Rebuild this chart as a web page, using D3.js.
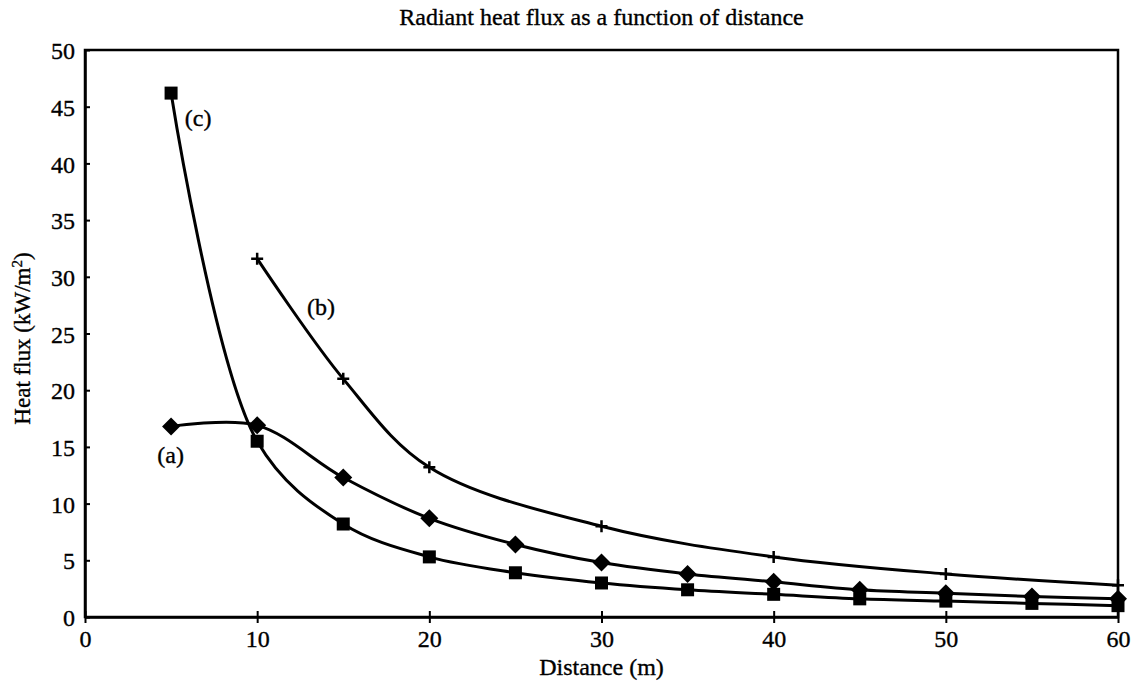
<!DOCTYPE html>
<html lang="en">
<head>
<meta charset="UTF-8">
<title>Radiant heat flux as a function of distance</title>
<style>
    body { margin: 0; background: #fff; }
    svg text { font-family: "Liberation Serif", "DejaVu Serif", serif; fill: #000; stroke: #000; stroke-width: 0.35px; }
    .curve { fill: none; stroke: #000; stroke-width: 3px; }
    .frame { fill: none; stroke: #000; stroke-width: 2.5px; }
</style>
</head>
<body>
<div id="chart"></div>
<script src="https://d3js.org/d3.v7.min.js"></script>
<script>
    // values
    var distAC = [5, 10, 15, 20, 25, 30, 35, 40, 45, 50, 55, 60];
    var fluxA = [16.8, 16.9, 12.3, 8.7, 6.4, 4.8, 3.8, 3.1, 2.4, 2.1, 1.8, 1.6];
    var fluxC = [46.2, 15.5, 8.2, 5.3, 3.9, 3.0, 2.4, 2.0, 1.6, 1.4, 1.2, 1.0];
    var distB = [10, 15, 20, 30, 40, 50, 60];
    var fluxB = [31.6, 21.0, 13.2, 8.0, 5.3, 3.8, 2.8];

    var xTicks = [0, 10, 20, 30, 40, 50, 60];
    var yTicks = [0, 5, 10, 15, 20, 25, 30, 35, 40, 45, 50];

    // curve labels, placed in data units
    var labelText = ["(a)", "(b)", "(c)"];
    var labelX = [4.2, 12.9, 5.8];
    var labelY = [13.6, 26.6, 43.3];

    var W = 1135, H = 682;
    var margin = {top: 50, right: 17, bottom: 65, left: 85};
    var width = W - margin.left - margin.right,
        height = H - margin.top - margin.bottom;

    var x = d3.scaleLinear().domain([0, 60]).range([0, width]);
    var y = d3.scaleLinear().domain([0, 50]).range([height, 0]);

    var svg = d3.select("#chart").append("svg")
        .attr("width", W)
        .attr("height", H);

    var g = svg.append("g")
        .attr("transform", "translate(" + margin.left + "," + margin.top + ")");

    // title
    svg.append("text")
        .attr("x", margin.left + width / 2)
        .attr("y", 25)
        .attr("text-anchor", "middle")
        .style("font-size", "24px")
        .text("Radiant heat flux as a function of distance");

    // frame
    g.append("rect")
        .attr("class", "frame")
        .attr("width", width)
        .attr("height", height);

    // x axis: ticks cross the line
    var xAxis = g.append("g")
        .attr("transform", "translate(0," + height + ")")
        .call(d3.axisBottom(x).tickValues(xTicks).tickSizeInner(6).tickSizeOuter(0).tickPadding(7));
    xAxis.select(".domain").attr("stroke-width", 2.5);
    xAxis.selectAll(".tick line").attr("y1", -6).attr("stroke-width", 2);
    xAxis.selectAll(".tick text")
        .style("font-size", "24px")
        .style("font-family", "'Liberation Serif', serif");

    // y axis
    var yAxis = g.append("g")
        .call(d3.axisLeft(y).tickValues(yTicks).tickSizeInner(7).tickSizeOuter(0).tickPadding(3));
    yAxis.select(".domain").attr("stroke-width", 2.5);
    yAxis.selectAll(".tick line").attr("x2", 5).attr("stroke-width", 2);
    yAxis.selectAll(".tick text")
        .attr("dy", "0.36em")
        .style("font-size", "24px")
        .style("font-family", "'Liberation Serif', serif");

    // axis titles
    svg.append("text")
        .attr("x", margin.left + width / 2)
        .attr("y", 675)
        .attr("text-anchor", "middle")
        .style("font-size", "24px")
        .text("Distance (m)");

    var yTitle = svg.append("text")
        .attr("transform", "translate(30," + (margin.top + height / 2 + 5) + ") rotate(-90)")
        .attr("text-anchor", "middle")
        .style("font-size", "23px");
    yTitle.append("tspan").text("Heat flux (kW/m");
    yTitle.append("tspan").attr("baseline-shift", "super").style("font-size", "15px").text("2");
    yTitle.append("tspan").text(")");

    // smoothed lines like the spreadsheet's
    var line = d3.line()
        .x(function(d) { return x(d[0]); })
        .y(function(d) { return y(d[1]); })
        .curve(d3.curveCatmullRom.alpha(0.5));

    var seriesA = d3.zip(distAC, fluxA);
    var seriesB = d3.zip(distB, fluxB);
    var seriesC = d3.zip(distAC, fluxC);

    [seriesA, seriesB, seriesC].forEach(function(s) {
        g.append("path").datum(s).attr("class", "curve").attr("d", line);
    });

    // (c) squares
    g.selectAll(".sq").data(seriesC).enter().append("rect")
        .attr("class", "sq")
        .attr("x", function(d) { return x(d[0]) - 6.5; })
        .attr("y", function(d) { return y(d[1]) - 6.5; })
        .attr("width", 13).attr("height", 13)
        .attr("fill", "#000");

    // (a) diamonds
    g.selectAll(".dm").data(seriesA).enter().append("path")
        .attr("class", "dm")
        .attr("transform", function(d) { return "translate(" + x(d[0]) + "," + y(d[1]) + ")"; })
        .attr("d", "M0,-9L9,0L0,9L-9,0Z")
        .attr("fill", "#000");

    // (b) plus signs
    g.selectAll(".pl").data(seriesB).enter().append("path")
        .attr("class", "pl")
        .attr("transform", function(d) { return "translate(" + x(d[0]) + "," + y(d[1]) + ")"; })
        .attr("d", "M-6,0H6M0,-6V6")
        .attr("stroke", "#000")
        .attr("stroke-width", 2.5);

    // curve labels
    g.selectAll(".lbl").data(labelText).enter().append("text")
        .attr("class", "lbl")
        .attr("x", function(d, i) { return x(labelX[i]); })
        .attr("y", function(d, i) { return y(labelY[i]); })
        .style("font-size", "24px")
        .text(function(d) { return d; });
</script>
</body>
</html>
